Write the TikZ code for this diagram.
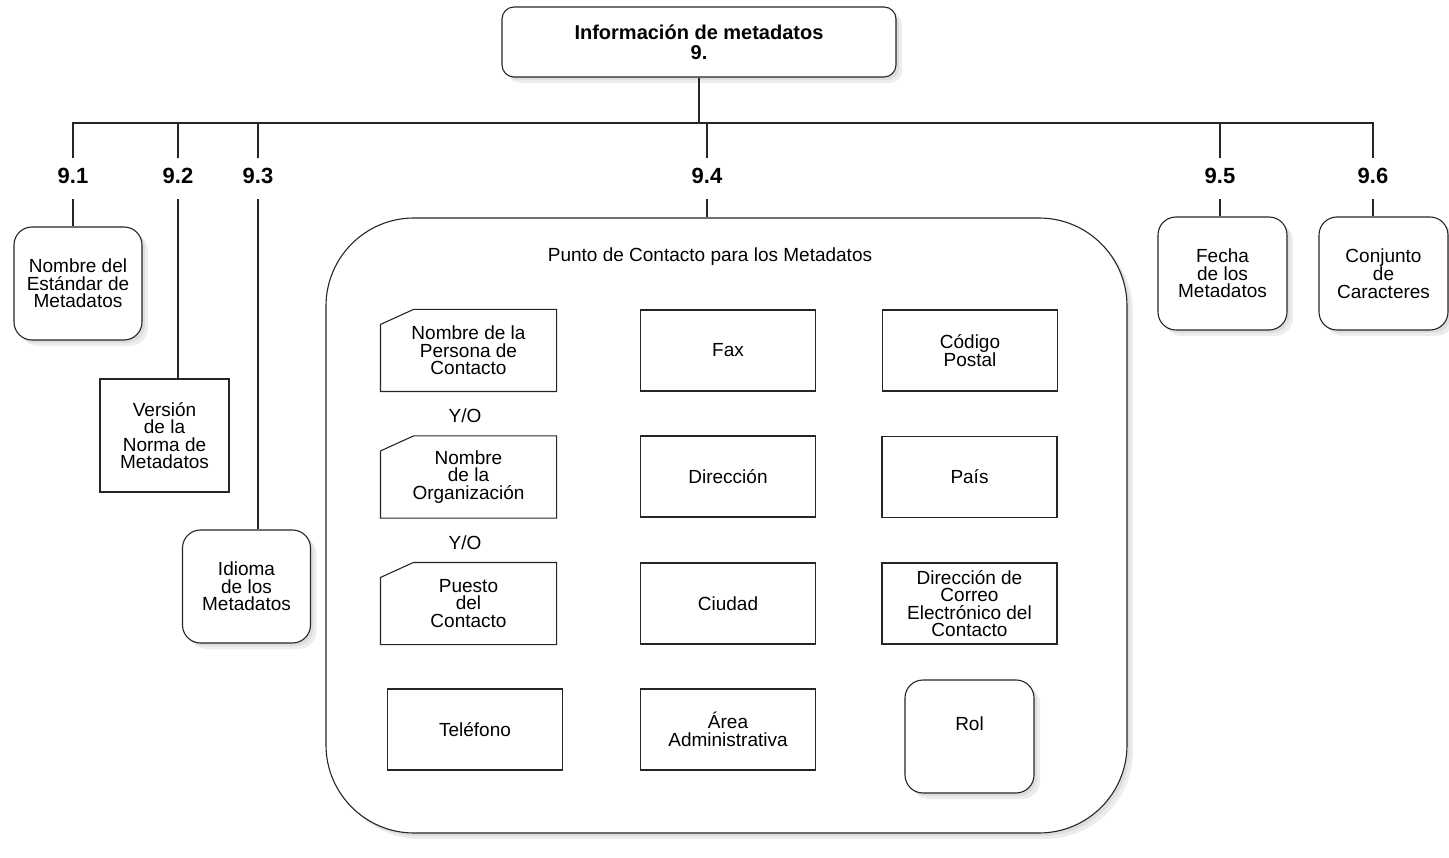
\documentclass[tikz,border=0pt]{standalone}
\usepackage{fontspec}
\setmainfont{Liberation Sans}
\usepackage{tikz}
\usetikzlibrary{shadows}

\tikzset{
	linea/.style={draw=black!85, line width=1.1pt},
	caja/.style={linea, fill=white, minimum width=175pt, minimum height=81pt, align=center, inner sep=2pt},
	sombra/.style={drop shadow={shadow xshift=6pt, shadow yshift=-6pt, fill=black!7, opacity=1},
		drop shadow={shadow xshift=3pt, shadow yshift=-3pt, fill=black!13, opacity=1}},
	cajar/.style={caja, sombra, rounded corners=18pt, minimum width=128pt, minimum height=113pt},
	num/.style={font=\fontsize{22}{22}\selectfont\bfseries, anchor=base, inner ysep=10pt, text depth=5pt}
}

\begin{document}
\begin{tikzpicture}[x=1pt, y=-1pt, font=\fontsize{19}{17.5}\selectfont]
	\useasboundingbox (0,0) rectangle (1449,858);
	\node[cajar, rounded corners=12pt, minimum width=394pt, minimum height=70pt, font=\fontsize{20}{20}\selectfont\bfseries] (top) at (699,42) {Información de metadatos\\9.};
	\coordinate (bus) at (0,123);
	
	\foreach \n/\x in {1/73,2/178,3/258,4/707,5/1220,6/1373}
	\node[num] (n9\n) at (\x,184) {9.\n};
	
	\node[cajar] (v91) at (78,283.5) {Nombre del\\Estándar de\\Metadatos};
	\node[caja, minimum width=129pt, minimum height=113pt] (v92) at (164.5,435.5) {Versión\\de la\\Norma de\\Metadatos};
	\node[cajar] (v93) at (246.5,586.5) {Idioma\\de los\\Metadatos};
	\node[cajar, rounded corners=88pt, minimum width=801pt, minimum height=615pt] (v94) at (726.5,525.5) {};
	\node[cajar, minimum width=129pt] (v95) at (1222.5,273.5) {Fecha\\de los\\Metadatos};
	\node[cajar, minimum width=129pt] (v96) at (1383.5,273.5) {Conjunto\\de\\Caracteres};
	
	% arbol
	\draw[linea] (top.south) -- (top.south |- bus);
	\draw[linea] (n91.north) -- (n91.north |- bus) -- (n96.north |- bus) -- (n96.north);
	\foreach \n in {2,3,4,5}
	\draw[linea] (n9\n.north) -- (n9\n.north |- bus);
	\foreach \n in {1,...,6}
	\draw[linea] (n9\n.south) -- (n9\n.south |- v9\n.north);
	
	% punto de contacto
	\node (tit) at (710,257) {Punto de Contacto para los Metadatos};
	\node[caja, draw=none] (p1) at (468.5,350.5) {Nombre de la\\Persona de\\Contacto};
	\node[caja, draw=none] (p2) at (468.5,477) {Nombre\\de la\\Organización};
	\node[caja, draw=none] (p3) at (468.5,603.5) {Puesto\\del\\Contacto};
	\foreach \n in {p1,p2,p3}
	\draw[linea] (\n.south west) -- ([yshift=-15pt]\n.north west) -- ([xshift=33pt]\n.north west) -- (\n.north east) -- (\n.south east) -- cycle;
	\node (yo1) at (465,416) {Y/O};
	\node (yo2) at (465,543) {Y/O};
	\node[caja] (tel) at (475,729.5) {Teléfono};
	
	\node[caja] (fax) at (728,350.5) {Fax};
	\node[caja] (dir) at (728,476.5) {Dirección};
	\node[caja] (ciu) at (728,603.5) {Ciudad};
	\node[caja] (area) at (728,729.5) {Área\\Administrativa};
	
	\node[caja] (cp) at (970,350.5) {Código\\Postal};
	\node[caja] (pais) at (969.5,477) {País};
	\node[caja] (correo) at (969.5,603.5) {Dirección de\\Correo\\Electrónico del\\Contacto};
	\node[cajar, minimum width=129pt, text depth=25pt] (rol) at (969.5,736.5) {Rol};
\end{tikzpicture}
\end{document}
